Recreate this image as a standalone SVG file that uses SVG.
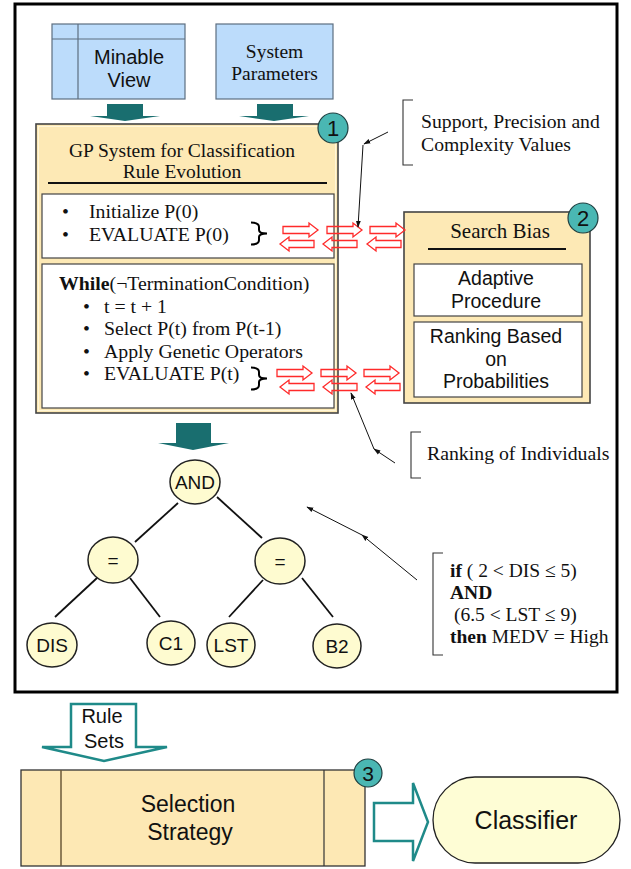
<svg xmlns="http://www.w3.org/2000/svg" width="631" height="869" viewBox="0 0 631 869">
  <defs>
    <style>
      .serif { font-family: "Liberation Serif", "Times New Roman", serif; fill: #111; }
      .sans { font-family: "Liberation Sans", Arial, sans-serif; fill: #111; }
      .body { font-size: 19.8px; }
      .blue { fill: #bcdcfb; stroke: #5d6e80; stroke-width: 1.2; }
      .tan { fill: #fde9b5; stroke: #444; stroke-width: 1.6; }
      .inner { fill: #ffffff; stroke: #444; stroke-width: 1.2; }
      .badge { fill: #4ab7b3; stroke: #1f3f40; stroke-width: 1.2; }
      .solid { fill: #196e6f; }
      .hollow { fill: #ffffff; stroke: #1f8a89; stroke-width: 2.5; stroke-linejoin: miter; }
      .tree { fill: #fefbd0; stroke: #222; stroke-width: 1.5; }
      .edge { stroke: #111; stroke-width: 1.8; }
      .note { stroke: #111; stroke-width: 1; fill: none; }
      .bracket { stroke: #333; stroke-width: 1.1; fill: none; }
      .brace { stroke: #000; stroke-width: 2; fill: none; }
      .red { fill: none; stroke: #ff2a2a; stroke-width: 1.3; stroke-linejoin: miter; }
    </style>
    <marker id="tip" viewBox="0 0 10 10" refX="9" refY="5" markerWidth="7" markerHeight="7" orient="auto">
      <path d="M0,1.5 L10,5 L0,8.5 Z" fill="#111"/>
    </marker>
    <!-- two-way exchange arrow pair -->
    <path id="rarrow" d="M0,-3.5 H26 V-7 L35,0 L26,7 V3.5 H0 Z"/>
    <path id="larrow" d="M0,0 L9,-7 V-3.5 H34 V3.5 H9 V7 Z"/>
  </defs>

  <rect width="631" height="869" fill="#ffffff"/>

  <!-- outer frame of the GP stage -->
  <rect x="15" y="4" width="602" height="688" fill="none" stroke="#000" stroke-width="3"/>

  <g id="minable-view">
    <rect class="blue" x="52" y="24" width="133" height="75"/>
    <line x1="52" y1="39" x2="185" y2="39" stroke="#5d6e80" stroke-width="1.2"/>
    <line x1="78" y1="24" x2="78" y2="99" stroke="#5d6e80" stroke-width="1.2"/>
    <text class="sans" x="129" y="64" font-size="20" text-anchor="middle">Minable</text>
    <text class="sans" x="129" y="87" font-size="20" text-anchor="middle">View</text>
  </g>

  <g id="system-parameters">
    <rect class="blue" x="216" y="24" width="117" height="75"/>
    <text class="serif" x="274.5" y="58" font-size="19.5" text-anchor="middle">System</text>
    <text class="serif" x="274.5" y="80" font-size="19.5" text-anchor="middle">Parameters</text>
  </g>

  <g id="gp-system">
    <rect class="tan" x="36" y="124" width="302" height="289"/>
    <rect x="38.5" y="126.5" width="297" height="284" fill="none" stroke="#fff6d8" stroke-width="1"/>
    <text class="serif" x="182" y="157" font-size="19.5" text-anchor="middle">GP System for Classification</text>
    <text class="serif" x="182" y="178" font-size="19.5" text-anchor="middle">Rule Evolution</text>
    <line x1="48" y1="183" x2="327" y2="183" stroke="#111" stroke-width="2"/>

    <rect class="inner" x="42" y="194" width="292" height="64"/>
    <text class="serif body" x="62" y="218">•</text>
    <text class="serif body" x="89" y="218">Initialize P(0)</text>
    <text class="serif body" x="62" y="241">•</text>
    <text class="serif body" x="89" y="241">EVALUATE P(0)</text>
    <path class="brace" d="M251,222.5 Q259,222.5 259,227 V230 Q259,233.5 267,233.5 Q259,233.5 259,237 V240 Q259,244.5 251,244.5"/>

    <rect class="inner" x="42" y="264" width="292" height="144"/>
    <text class="serif body" x="59" y="290"><tspan font-weight="bold">While</tspan>(¬TerminationCondition)</text>
    <text class="serif body" x="83" y="313">•</text>
    <text class="serif body" x="104" y="313">t = t + 1</text>
    <text class="serif body" x="83" y="335">•</text>
    <text class="serif body" x="104" y="335">Select P(t) from P(t-1)</text>
    <text class="serif body" x="83" y="358">•</text>
    <text class="serif body" x="104" y="358">Apply Genetic Operators</text>
    <text class="serif body" x="83" y="380">•</text>
    <text class="serif body" x="104" y="380">EVALUATE P(t)</text>
    <path class="brace" d="M251,367.5 Q259,367.5 259,372 V375 Q259,378.5 267,378.5 Q259,378.5 259,382 V385 Q259,389.5 251,389.5"/>

    <circle class="badge" cx="333" cy="128" r="15"/>
    <text class="sans" x="333" y="136" font-size="22" text-anchor="middle">1</text>
  </g>

  <g id="search-bias">
    <rect class="tan" x="404" y="212" width="186" height="191"/>
    <text class="serif" x="500" y="238" font-size="21" text-anchor="middle">Search Bias</text>
    <line x1="428" y1="249" x2="566" y2="249" stroke="#111" stroke-width="1.8"/>
    <rect class="inner" x="414" y="264" width="168" height="52"/>
    <text class="sans" x="496" y="285" font-size="19.5" text-anchor="middle">Adaptive</text>
    <text class="sans" x="496" y="308" font-size="19.5" text-anchor="middle">Procedure</text>
    <rect class="inner" x="414" y="322" width="168" height="75"/>
    <text class="sans" x="496" y="343" font-size="19.5" text-anchor="middle">Ranking Based</text>
    <text class="sans" x="496" y="366" font-size="19.5" text-anchor="middle">on</text>
    <text class="sans" x="496" y="388" font-size="19.5" text-anchor="middle">Probabilities</text>
    <circle class="badge" cx="583" cy="218" r="15"/>
    <text class="sans" x="583" y="226" font-size="22" text-anchor="middle">2</text>
  </g>

  <g id="note-support">
    <path class="bracket" d="M413,100 H403 V165 H413"/>
    <text class="serif" x="421" y="128" font-size="19.7">Support, Precision and</text>
    <text class="serif" x="421" y="151" font-size="19.7">Complexity Values</text>
  </g>

  <g id="note-ranking">
    <path class="bracket" d="M421,432 H411 V478 H421"/>
    <text class="serif" x="427" y="460" font-size="19.8">Ranking of Individuals</text>
  </g>

  <g id="note-rule">
    <path class="bracket" d="M443,553 H433 V655 H443"/>
    <text class="serif" x="450" y="577" font-size="19.5"><tspan font-weight="bold">if</tspan> ( 2 &lt; DIS ≤ 5)</text>
    <text class="serif" x="450" y="599" font-size="19.5" font-weight="bold">AND</text>
    <text class="serif" x="454" y="621" font-size="19.5">(6.5 &lt; LST ≤ 9)</text>
    <text class="serif" x="450" y="643" font-size="19.5"><tspan font-weight="bold">then</tspan> MEDV = High</text>
  </g>

  <g id="tree-and">
    <ellipse class="tree" cx="195" cy="482" rx="25" ry="22"/>
    <text class="sans" x="195" y="489" font-size="19" text-anchor="middle">AND</text>
  </g>
  <g id="tree-eq-left">
    <ellipse class="tree" cx="113" cy="560" rx="25" ry="23"/>
    <text class="sans" x="113" y="567" font-size="19" text-anchor="middle">=</text>
  </g>
  <g id="tree-eq-right">
    <ellipse class="tree" cx="280" cy="561" rx="25" ry="23"/>
    <text class="sans" x="280" y="568" font-size="19" text-anchor="middle">=</text>
  </g>
  <g id="tree-dis">
    <ellipse class="tree" cx="52" cy="645" rx="25" ry="22"/>
    <text class="sans" x="52" y="652" font-size="19" text-anchor="middle">DIS</text>
  </g>
  <g id="tree-c1">
    <ellipse class="tree" cx="171" cy="643" rx="24" ry="22"/>
    <text class="sans" x="171" y="650" font-size="19" text-anchor="middle">C1</text>
  </g>
  <g id="tree-lst">
    <ellipse class="tree" cx="231" cy="645" rx="24" ry="22"/>
    <text class="sans" x="231" y="652" font-size="19" text-anchor="middle">LST</text>
  </g>
  <g id="tree-b2">
    <ellipse class="tree" cx="337" cy="646" rx="24" ry="22"/>
    <text class="sans" x="337" y="653" font-size="19" text-anchor="middle">B2</text>
  </g>

  <g id="selection-strategy">
    <rect x="21" y="770" width="344" height="96" fill="#fde8b4" stroke="#333" stroke-width="1.3"/>
    <line x1="61" y1="770" x2="61" y2="866" stroke="#6b5a3a" stroke-width="1.5"/>
    <line x1="324" y1="770" x2="324" y2="866" stroke="#333" stroke-width="1.2"/>
    <text class="sans" x="188" y="812" font-size="23" text-anchor="middle">Selection</text>
    <text class="sans" x="190" y="840" font-size="23" text-anchor="middle">Strategy</text>
    <circle class="badge" cx="368" cy="773" r="14"/>
    <text class="sans" x="368" y="781" font-size="21" text-anchor="middle">3</text>
  </g>

  <g id="classifier">
    <rect x="433" y="777" width="187" height="86" rx="42" ry="43" fill="#fefdd5" stroke="#222" stroke-width="1.3"/>
    <text class="sans" x="526" y="829" font-size="25" text-anchor="middle">Classifier</text>
  </g>

  <g id="connectors">
    <!-- block arrows into and out of the GP system -->
    <path class="solid" d="M107,104 H143 V116 H160 L125,121 L90,116 H107 Z"/>
    <path class="solid" d="M257,104 H293 V116 H309 L274,121 L239,116 H257 Z"/>
    <path class="solid" d="M176,423 H211 V443 H229 L193,450 L158,443 H176 Z"/>

    <!-- rule sets into the selection strategy -->
    <path class="hollow" d="M71,704 H136 V747 H167 L104,761 L42,747 H71 Z"/>
    <text class="sans" x="102" y="723" font-size="20" text-anchor="middle">Rule</text>
    <text class="sans" x="104" y="748" font-size="20" text-anchor="middle">Sets</text>

    <!-- selection strategy to classifier -->
    <path class="hollow" d="M374,803 H413 V783 L428,822 L413,861 V841 H374 Z"/>

    <!-- exchanges between GP system and search bias -->
    <use href="#rarrow" class="red" x="283" y="230"/>
    <use href="#rarrow" class="red" x="327" y="230"/>
    <use href="#rarrow" class="red" x="370" y="230"/>
    <use href="#larrow" class="red" x="280" y="244"/>
    <use href="#larrow" class="red" x="323" y="244"/>
    <use href="#larrow" class="red" x="367" y="244"/>
    <use href="#rarrow" class="red" x="277" y="373"/>
    <use href="#rarrow" class="red" x="321" y="373"/>
    <use href="#rarrow" class="red" x="364" y="373"/>
    <use href="#larrow" class="red" x="280" y="387"/>
    <use href="#larrow" class="red" x="323" y="387"/>
    <use href="#larrow" class="red" x="366" y="387"/>

    <!-- tree edges -->
    <line class="edge" x1="178" y1="503" x2="135" y2="542"/>
    <line class="edge" x1="217" y1="497" x2="262" y2="538"/>
    <line class="edge" x1="97" y1="578" x2="55" y2="617"/>
    <line class="edge" x1="130" y1="578" x2="160" y2="617"/>
    <line class="edge" x1="263" y1="580" x2="229" y2="617"/>
    <line class="edge" x1="302" y1="578" x2="333" y2="617"/>

    <!-- annotation pointers -->
    <line class="note" x1="388" y1="132" x2="364" y2="144" marker-end="url(#tip)"/>
    <line class="note" x1="363" y1="145" x2="358" y2="227" marker-end="url(#tip)"/>
    <line class="note" x1="395" y1="463" x2="374" y2="449" marker-end="url(#tip)"/>
    <line class="note" x1="374" y1="449" x2="351" y2="393" marker-end="url(#tip)"/>
    <line class="note" x1="417" y1="580" x2="362" y2="535" marker-end="url(#tip)"/>
    <line class="note" x1="362" y1="535" x2="307" y2="507" marker-end="url(#tip)"/>
  </g>
</svg>
